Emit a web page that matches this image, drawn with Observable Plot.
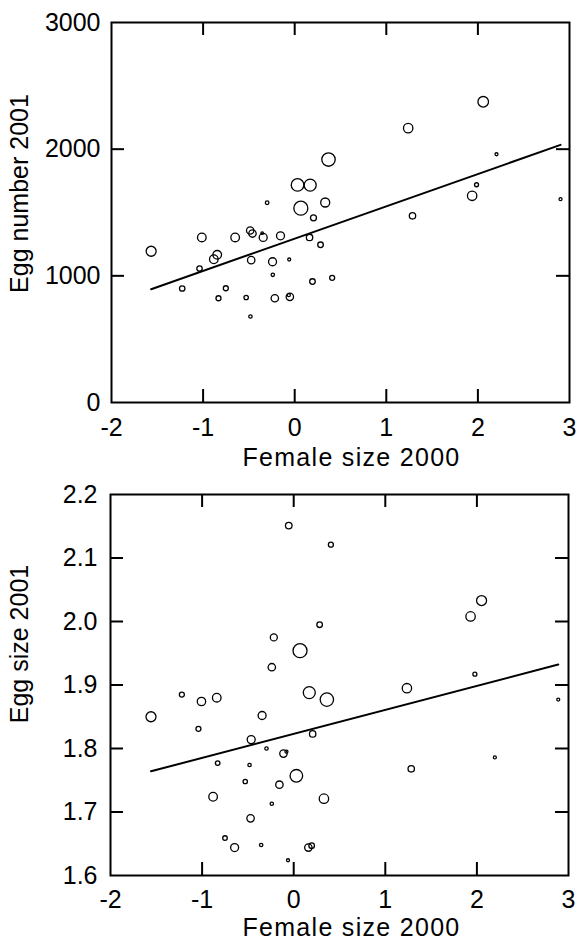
<!DOCTYPE html>
<html><head><meta charset="utf-8">
<script src="https://cdn.jsdelivr.net/npm/d3@7"></script>
<script src="https://cdn.jsdelivr.net/npm/@observablehq/plot@0.6"></script>
<style>
body{margin:0;background:#fff;}
#chart svg{display:block;}
</style></head><body><div id="chart"></div>
<script>
// ---- Shared axis ----
const xTicks = [-2, -1, 0, 1, 2, 3];
const xLabel = "Female size 2000";

// ---- Top panel: egg number ----
const femaleSizeTop = [-1.567,-1.014,-1.228,-1.039,-0.883,-0.846,-0.832,-0.752,-0.650,-0.530,-0.486,-0.461,-0.475,-0.483,-0.355,-0.344,-0.301,-0.242,-0.239,-0.217,-0.155,-0.060,-0.053,-0.064,0.031,0.067,0.169,0.162,0.205,0.194,0.282,0.333,0.369,0.409,1.239,2.058,1.286,1.937,1.985,2.203,2.902];
const eggNumber = [1194,1303,900,1058,1131,1166,823,902,1303,829,1358,1334,1124,679,1337,1303,1577,1111,1008,823,1316,1129,834,847,1718,1534,1716,1303,1458,955,1245,1579,1918,984,2166,2374,1474,1632,1719,1960,1605];
const weightTop = [5,4.3,2.7,2.7,4.3,4.3,2.5,2.5,4.3,2.2,3.7,3.7,3.7,1.7,1.3,4,1.8,4,1.7,3.7,4,1.5,3.7,1.5,6.3,7,6,3.2,3,2.8,2.8,4.5,6.7,2.5,4.7,5.3,3.2,4.7,2,1.5,1.5];
const yTicksTop = [0, 1000, 2000, 3000];
const fitTop = {intercept: 1294, slope: 254.9};

// ---- Bottom panel: egg size ----
const femaleSizeBottom = [-0.054,0.406,0.283,-0.217,0.069,-0.239,-1.221,-1.007,-0.840,0.170,0.362,-1.558,-0.345,-1.040,-0.464,0.207,-0.297,-0.112,-0.079,-0.830,-0.482,0.029,-0.529,-0.156,-0.880,0.330,-0.239,-0.471,-0.750,-0.645,-0.355,0.160,0.196,-0.062,2.051,1.931,1.978,1.236,2.888,2.196,1.283];
const eggSize = [2.151,2.121,1.995,1.975,1.954,1.928,1.885,1.874,1.880,1.888,1.877,1.850,1.852,1.831,1.814,1.823,1.800,1.792,1.795,1.777,1.774,1.757,1.748,1.743,1.724,1.721,1.713,1.690,1.659,1.644,1.648,1.644,1.647,1.624,2.033,2.008,1.917,1.895,1.877,1.786,1.768];
const weightBottom = [3.3,2.5,2.8,3.5,7,3.7,2.5,4.2,4.3,6,6.7,5,4,2.5,4,3.2,1.7,3.7,1.5,2.3,1.7,6.3,2.2,3.7,4.3,4.7,1.7,3.7,2.3,4,1.7,3.7,2.8,1.5,5,4.7,2,4.7,1.5,1.5,3.2];
const yTicksBottom = [1.6, 1.7, 1.8, 1.9, 2.0, 2.1, 2.2];
const fitBottom = {intercept: 1.823, slope: 0.0378};

function panel(o) {
  const data = o.xs.map((x, i) => ({x, y: o.ys[i], w: o.ws[i]}));
  const ext = d3.extent(o.xs);
  const fit = ext.map(x => ({x, y: o.fit.intercept + o.fit.slope * x}));
  const fw = o.width - o.mL - o.mR, fh = o.height - o.mT - o.mB;
  const tl = 13;
  const xIn = xTicks.slice(1, -1), yIn = o.yTicks.slice(1, -1);
  const svg = Plot.plot({
    width: o.width, height: o.height,
    marginLeft: o.mL, marginRight: o.mR, marginTop: o.mT, marginBottom: o.mB,
    style: {fontFamily: "'Liberation Sans', Arial, sans-serif", fontSize: "25px", color: "black", background: "white", overflow: "visible"},
    x: {domain: [-2, 3], ticks: xTicks, tickFormat: d => String(d), tickSize: 0, tickPadding: o.xPad, label: null},
    y: {domain: d3.extent(o.yTicks), ticks: o.yTicks, tickFormat: o.yFmt, tickSize: 0, tickPadding: o.yPad, label: null},
    r: {type: "linear", domain: [0, 7], range: [0, 7]},
    marks: [
      Plot.tickX(xIn, {x: d => d, insetTop: fh - tl, stroke: "black", strokeWidth: 2}),
      Plot.tickX(xIn, {x: d => d, insetBottom: fh - tl, stroke: "black", strokeWidth: 2}),
      Plot.tickY(yIn, {y: d => d, insetRight: fw - tl, stroke: "black", strokeWidth: 2}),
      Plot.tickY(yIn, {y: d => d, insetLeft: fw - tl, stroke: "black", strokeWidth: 2}),
      Plot.frame({stroke: "black", strokeWidth: 2}),
      Plot.line(fit, {x: "x", y: "y", stroke: "black", strokeWidth: 2}),
      Plot.dot(data, {x: "x", y: "y", r: "w", stroke: "black", fill: "none", strokeWidth: 1.3}),
      Plot.text([o.yLabel], {text: d => d, frameAnchor: "left", textAnchor: "middle", rotate: -90, dx: o.ytDx, dy: o.ytDy, fontSize: 25, lineAnchor: "middle", fill: "black"}),
      Plot.text([xLabel], {text: d => d, frameAnchor: "bottom", textAnchor: "middle", dx: o.xtDx, dy: o.xtDy, fontSize: 25, lineAnchor: "middle", fill: "black"})
    ]
  });
  d3.select(svg).selectAll("text").filter(function () { return this.textContent === xLabel; })
    .style("letter-spacing", "1.3px");
  return svg;
}

const chart = document.getElementById("chart");
chart.append(panel({
  xs: femaleSizeTop, ys: eggNumber, ws: weightTop, fit: fitTop,
  yTicks: yTicksTop, yFmt: d => String(d), yLabel: "Egg number 2001",
  width: 579, height: 462, mL: 111, mR: 10, mT: 22, mB: 60,
  xPad: 16, yPad: 11, ytDx: -92, ytDy: -19, xtDx: 11, xtDy: 55
}));
chart.append(panel({
  xs: femaleSizeBottom, ys: eggSize, ws: weightBottom, fit: fitBottom,
  yTicks: yTicksBottom, yFmt: d => d.toFixed(1), yLabel: "Egg size 2001",
  width: 579, height: 481, mL: 110, mR: 11, mT: 32, mB: 68,
  xPad: 15, yPad: 13, ytDx: -91, ytDy: -41, xtDx: 12, xtDy: 52
}));
</script></body></html>
